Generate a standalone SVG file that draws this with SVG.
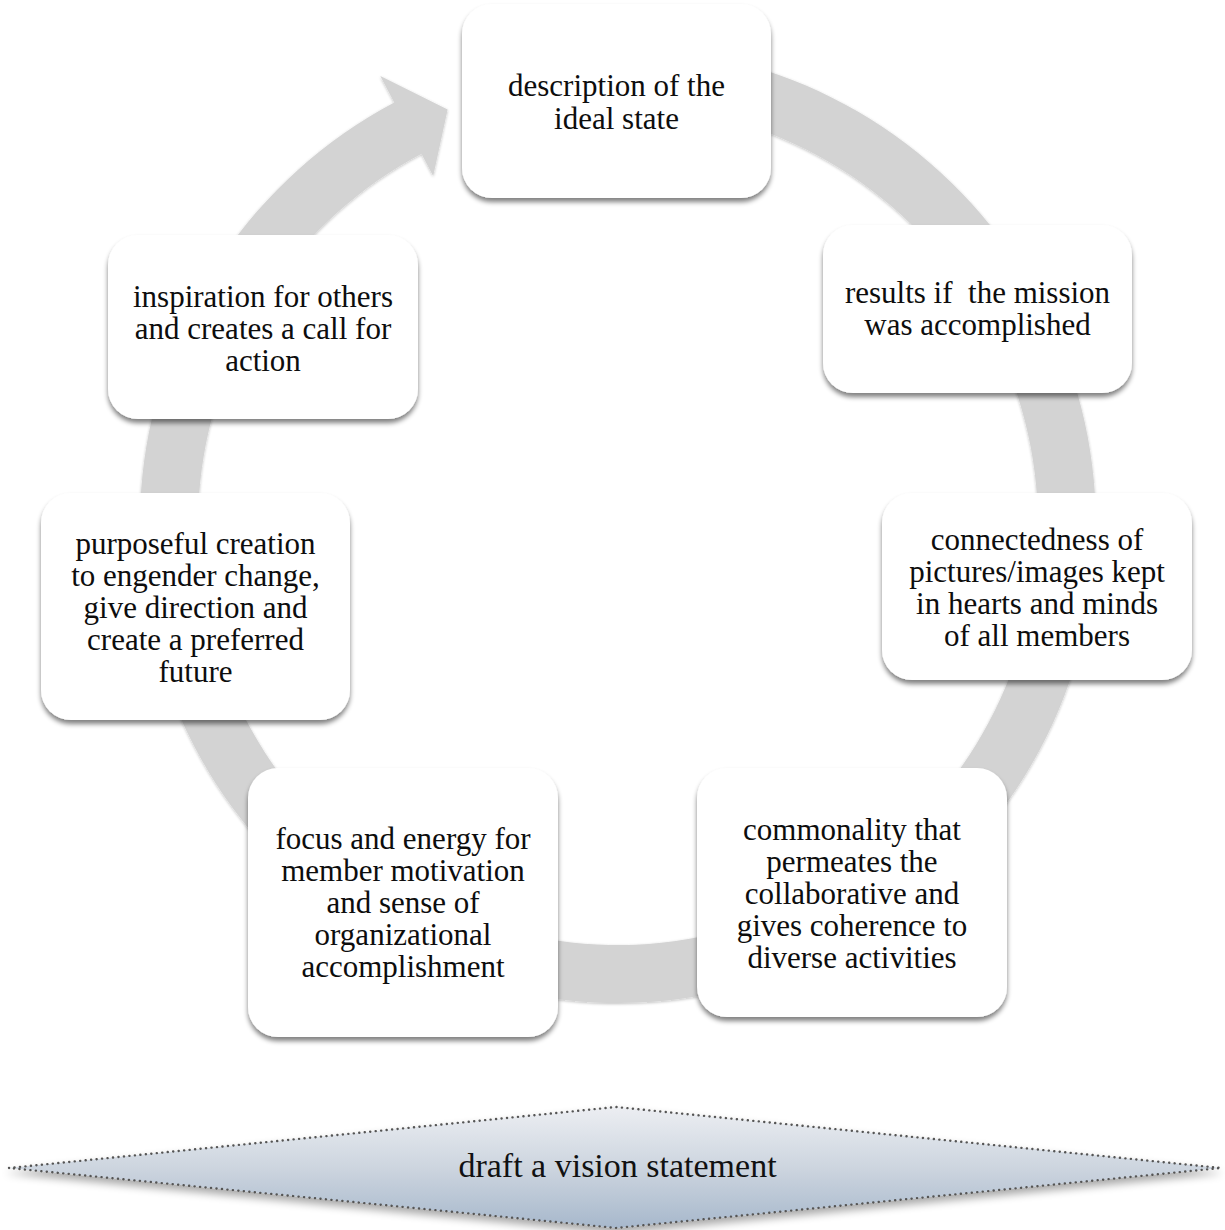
<svg xmlns="http://www.w3.org/2000/svg" width="1225" height="1230" viewBox="0 0 1225 1230">
  <defs>
    <filter id="shadow" x="-10%" y="-10%" width="120%" height="130%">
      <feGaussianBlur in="SourceAlpha" stdDeviation="2.5"/>
      <feOffset dx="0" dy="4" result="b"/>
      <feComponentTransfer><feFuncA type="linear" slope="0.5"/></feComponentTransfer>
      <feMerge><feMergeNode/><feMergeNode in="SourceGraphic"/></feMerge>
    </filter>
    <filter id="soft" x="-5%" y="-5%" width="110%" height="110%">
      <feGaussianBlur in="SourceAlpha" stdDeviation="1.5"/>
      <feOffset dx="0" dy="1"/>
      <feComponentTransfer><feFuncA type="linear" slope="0.25"/></feComponentTransfer>
      <feMerge><feMergeNode/><feMergeNode in="SourceGraphic"/></feMerge>
    </filter>
    <filter id="dshadow" x="-5%" y="-30%" width="110%" height="160%">
      <feGaussianBlur in="SourceAlpha" stdDeviation="4"/>
      <feOffset dx="0" dy="5"/>
      <feComponentTransfer><feFuncA type="linear" slope="0.35"/></feComponentTransfer>
      <feMerge><feMergeNode/><feMergeNode in="SourceGraphic"/></feMerge>
    </filter>
    <linearGradient id="dgrad" x1="0" y1="0" x2="0" y2="1">
      <stop offset="0" stop-color="#eceef2"/>
      <stop offset="0.5" stop-color="#cdd5df"/>
      <stop offset="1" stop-color="#a7b8cc"/>
    </linearGradient>
  </defs>
  <style>
    .box { fill: #ffffff; filter: url(#shadow); }
    .lbl { font-family: "Liberation Serif", "Times New Roman", serif; font-size: 31px; fill: #0d0d0d; text-anchor: middle; }
    .ring { fill: #d3d3d3; filter: url(#soft); }
    .dia { fill: url(#dgrad); stroke: #555555; stroke-width: 2.4; stroke-dasharray: 0.1 5.4; stroke-linecap: round; filter: url(#dshadow); }
    .dlbl { font-family: "Liberation Serif", "Times New Roman", serif; font-size: 34px; fill: #111111; text-anchor: middle; }
  </style>

  <g id="connectors">
    <path class="ring" d="M 576.3 48.8 A 478 478 0 1 1 394.3 102.5 L 380.3 76 L 447.6 109.6 L 433.2 175.9 L 421.5 153.8 A 420 420 0 1 0 581.4 106.6 Z"/>
  </g>

  <g id="node1">
    <rect class="box" x="462" y="4" width="309" height="194" rx="30"/>
    <text class="lbl" x="616.5" y="96">description of the</text>
    <text class="lbl" x="616.5" y="129">ideal state</text>
  </g>
  <g id="node2">
    <rect class="box" x="823" y="225" width="309" height="168" rx="30"/>
    <text class="lbl" x="977.5" y="303" xml:space="preserve">results if  the mission</text>
    <text class="lbl" x="977.5" y="335">was accomplished</text>
  </g>
  <g id="node3">
    <rect class="box" x="882" y="493" width="310" height="187" rx="30"/>
    <text class="lbl" x="1037" y="550">connectedness of</text>
    <text class="lbl" x="1037" y="582">pictures/images kept</text>
    <text class="lbl" x="1037" y="614">in hearts and minds</text>
    <text class="lbl" x="1037" y="646">of all members</text>
  </g>
  <g id="node4">
    <rect class="box" x="697" y="768" width="310" height="249" rx="30"/>
    <text class="lbl" x="852" y="840">commonality that</text>
    <text class="lbl" x="852" y="872">permeates the</text>
    <text class="lbl" x="852" y="904">collaborative and</text>
    <text class="lbl" x="852" y="936">gives coherence to</text>
    <text class="lbl" x="852" y="968">diverse activities</text>
  </g>
  <g id="node5">
    <rect class="box" x="248" y="768" width="310" height="269" rx="30"/>
    <text class="lbl" x="403" y="849">focus and energy for</text>
    <text class="lbl" x="403" y="881">member motivation</text>
    <text class="lbl" x="403" y="913">and sense of</text>
    <text class="lbl" x="403" y="945">organizational</text>
    <text class="lbl" x="403" y="977">accomplishment</text>
  </g>
  <g id="node6">
    <rect class="box" x="41" y="493" width="309" height="227" rx="30"/>
    <text class="lbl" x="195.5" y="554">purposeful creation</text>
    <text class="lbl" x="195.5" y="586">to engender change,</text>
    <text class="lbl" x="195.5" y="618">give direction and</text>
    <text class="lbl" x="195.5" y="650">create a preferred</text>
    <text class="lbl" x="195.5" y="682">future</text>
  </g>
  <g id="node7">
    <rect class="box" x="108" y="235" width="310" height="184" rx="30"/>
    <text class="lbl" x="263" y="307">inspiration for others</text>
    <text class="lbl" x="263" y="339">and creates a call for</text>
    <text class="lbl" x="263" y="371">action</text>
  </g>

  <g id="node8">
    <path class="dia" d="M 9 1168 L 616 1107 L 1221 1168 L 616 1228 Z"/>
    <text class="dlbl" x="617.5" y="1177">draft a vision statement</text>
  </g>
</svg>
